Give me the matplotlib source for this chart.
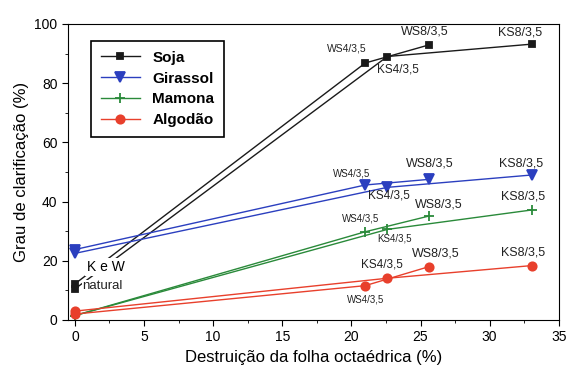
import matplotlib.pyplot as plt

plt.rcParams['font.family'] = ['Liberation Sans', 'DejaVu Sans']

# x: natural, 4/3,5, 8/3,5  (série W e série K)
x_w = [0, 21.0, 25.6]
x_k = [0, 22.6, 33.1]

soja_w = [12.2, 86.8, 92.9]
soja_k = [10.5, 89.0, 93.2]
girassol_w = [23.8, 45.6, 47.5]
girassol_k = [22.5, 44.8, 49.0]
mamona_w = [1.5, 29.8, 35.1]
mamona_k = [1.5, 30.6, 37.2]
algodao_w = [2.0, 11.6, 18.0]
algodao_k = [3.0, 14.1, 18.4]

nomes = ['Soja', 'Girassol', 'Mamona', 'Algodão']
cores = ['#1a1a1a', '#2b3fbf', '#2a8a3a', '#e8402c']
marcadores = ['s', 'v', '+', 'o']
tamanhos = [5, 7, 7, 6]
series = [(soja_w, soja_k), (girassol_w, girassol_k),
          (mamona_w, mamona_k), (algodao_w, algodao_k)]

# rótulos dos pontos: (texto, x, y, tamanho)
rotulos = [
    ('WS4/3,5', 19.7, 91.8, 7.5), ('KS4/3,5', 23.4, 84.5, 8.5),
    ('WS8/3,5', 25.3, 97.3, 9), ('KS8/3,5', 32.2, 97.0, 9),
    ('WS4/3,5', 20.0, 49.5, 7), ('KS4/3,5', 22.7, 41.9, 8.5),
    ('WS8/3,5', 25.7, 52.7, 9), ('KS8/3,5', 32.3, 52.9, 9),
    ('WS4/3,5', 20.7, 34.3, 7), ('KS4/3,5', 23.1, 27.6, 7),
    ('WS8/3,5', 26.3, 38.9, 9), ('KS8/3,5', 32.4, 41.7, 9),
    ('KS4/3,5', 22.2, 18.8, 8.5), ('WS8/3,5', 26.1, 22.3, 9),
    ('KS8/3,5', 32.4, 22.7, 9), ('WS4/3,5', 21.0, 6.8, 7),
]

fig = plt.figure(figsize=(5.69, 3.74), dpi=100)
ax = fig.add_axes([0.1195, 0.1444, 0.8625, 0.7916])

for nome, cor, mk, ms, (yw, yk) in zip(nomes, cores, marcadores, tamanhos, series):
    ax.plot(x_w, yw, color=cor, lw=1, marker=mk, ms=ms, mew=1.3, label=nome)
    ax.plot(x_k, yk, color=cor, lw=1, marker=mk, ms=ms, mew=1.3)

for txt, x, y, fs in rotulos:
    ax.text(x, y, txt, fontsize=fs, ha='center', va='center', color='#222222')

ax.text(2.25, 17.9, 'K e W', fontsize=10, ha='center', va='center', zorder=5,
        bbox=dict(facecolor='white', edgecolor='none', pad=1.5))
ax.text(0.55, 11.4, 'natural', fontsize=9.5, ha='left', va='center', zorder=5,
        color='#222222', bbox=dict(facecolor='white', edgecolor='none', pad=0.5))

ax.set_xlim(-0.5, 35)
ax.set_ylim(0, 100)
ax.set_xticks(range(0, 36, 5))
ax.set_yticks(range(0, 101, 20))
ax.set_xticks([x + 2.5 for x in range(0, 35, 5)], minor=True)
ax.set_yticks(range(10, 100, 20), minor=True)
ax.tick_params(labelsize=10, direction='out', length=4)
ax.tick_params(which='minor', direction='out', length=2.5)

ax.set_xlabel('Destruição da folha octaédrica (%)', fontsize=12)
ax.set_ylabel('Grau de clarificação (%)', fontsize=12)

leg = ax.legend(loc='upper left', bbox_to_anchor=(0.046, 0.943),
                prop={'weight': 'bold', 'size': 11}, numpoints=1, handlelength=2.6,
                fancybox=False, edgecolor='black', framealpha=1, borderaxespad=0,
                labelspacing=0.45, borderpad=0.65)
leg.get_frame().set_linewidth(1.2)

plt.savefig('out.png', dpi=100)
